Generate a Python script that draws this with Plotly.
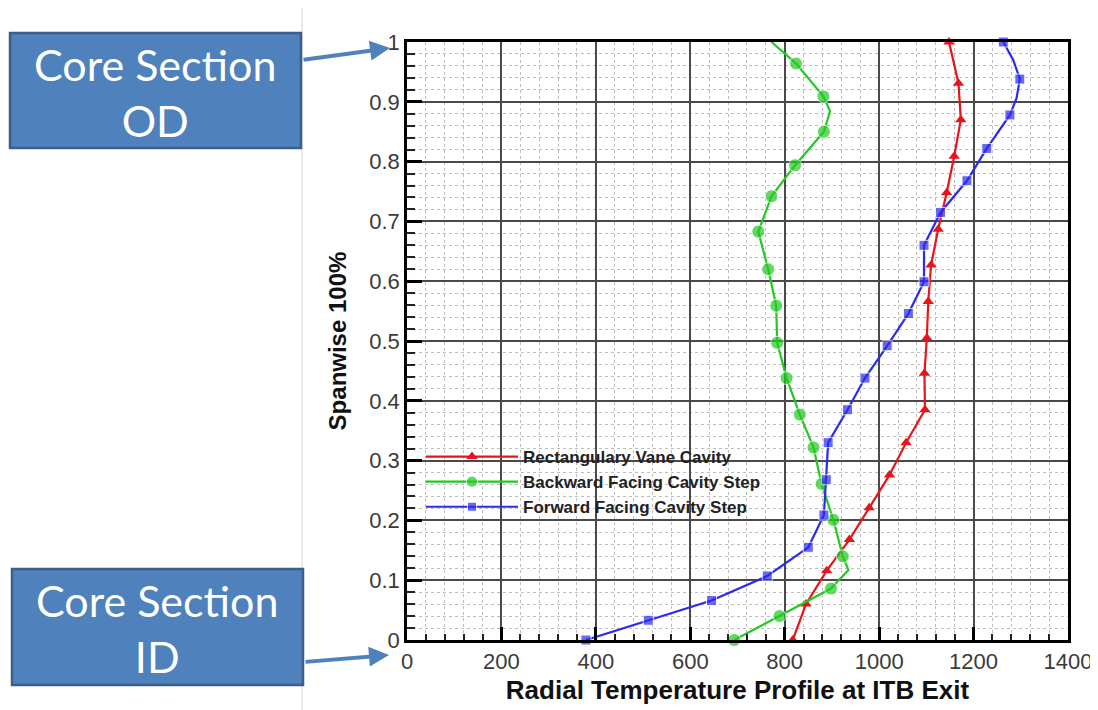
import plotly.graph_objects as go

# ---------------- data ----------------
rect_temp = [817, 845, 889, 937, 979, 1022, 1057, 1097, 1096, 1101, 1104, 1110, 1125, 1143, 1159, 1173, 1168, 1148]
rect_span = [0.0, 0.06, 0.116, 0.168, 0.221, 0.276, 0.33, 0.385, 0.446, 0.505, 0.566, 0.627, 0.687, 0.748, 0.809, 0.87, 0.931, 1.0]

back_temp = [693, 789, 898, 935, 923, 903, 878, 861, 832, 804, 784, 782, 765, 744, 772, 822, 883, 896, 882, 824, 772]
back_span = [0.0, 0.04, 0.086, 0.117, 0.14, 0.201, 0.261, 0.322, 0.377, 0.438, 0.497, 0.559, 0.62, 0.683, 0.742, 0.794, 0.85, 0.884, 0.909, 0.964, 1.0]

fwd_temp = [379, 511, 645, 763, 850, 883, 888, 892, 933, 970, 1017, 1062, 1095, 1095, 1130, 1186, 1228, 1277, 1291, 1298, 1284, 1263]
fwd_span = [0.0, 0.033, 0.066, 0.107, 0.155, 0.209, 0.268, 0.33, 0.385, 0.438, 0.492, 0.546, 0.599, 0.66, 0.715, 0.768, 0.822, 0.878, 0.906, 0.938, 0.97, 1.0]

series_names = ["Rectangulary Vane Cavity", "Backward Facing Cavity Step", "Forward Facing Cavity Step"]
x_title = "Radial Temperature Profile at ITB Exit"
y_title = "Spanwise 100%"
box_top_text = "Core Section<br>OD"
box_bot_text = "Core Section<br>ID"

# ---------------- styling ----------------
OFF = 8                      # page body margin (figure starts 8px in)
W, H = 1098 - OFF, 710 - OFF
# plot area in reference-page pixels
L, R, T, B = 407, 1068, 42, 640


def px(x):
    return (x - L) / (R - L)


def py(y):
    return (B - y) / (B - T)


def sizes(n, size, hidden=()):
    return [0 if i in hidden else size for i in range(n)]


fig = go.Figure()

fig.add_trace(go.Scatter(
    x=rect_temp, y=rect_span, name=series_names[0], mode="lines+markers",
    line=dict(color="#e8141b", width=2.2),
    marker=dict(symbol="triangle-up", size=10, color="#e8141b"),
    cliponaxis=False,
))
fig.add_trace(go.Scatter(
    x=back_temp, y=back_span, name=series_names[1], mode="lines+markers",
    line=dict(color="#22c922", width=2.2),
    marker=dict(symbol="circle", size=sizes(len(back_temp), 13, hidden=(3, 17, 20)), color="#22c922"),
    cliponaxis=False,
))
fig.add_trace(go.Scatter(
    x=fwd_temp, y=fwd_span, name=series_names[2], mode="lines+markers",
    line=dict(color="#2b2bf0", width=2.2),
    marker=dict(symbol="square", size=sizes(len(fwd_temp), 10, hidden=(18, 20)), color="#2b2bf0"),
    cliponaxis=False,
))

tick_font = dict(family="Liberation Sans, Arial, sans-serif", size=22, color="#3a3a3a")
title_font = dict(family="Liberation Sans, Arial, sans-serif", size=26, color="#111111", weight="bold")

fig.update_xaxes(
    range=[0, 1400], dtick=200, tick0=0,
    showline=True, linecolor="black", linewidth=2.5, mirror=True,
    ticks="inside", ticklen=13, tickwidth=2.5, tickcolor="black",
    showgrid=True, gridcolor="#4a4a4a", gridwidth=1.5,
    zeroline=False, tickfont=tick_font,
    minor=dict(dtick=40, ticks="inside", ticklen=6, tickwidth=1.5, tickcolor="#222",
               showgrid=True, gridcolor="#bdbdbd", gridwidth=1, griddash="dot"),
    title=dict(text=x_title, font=title_font, standoff=8),
)
fig.update_yaxes(
    range=[0, 1], dtick=0.1, tick0=0,
    showline=True, linecolor="black", linewidth=2.5, mirror=True,
    ticks="inside", ticklen=15, tickwidth=2.5, tickcolor="black",
    showgrid=True, gridcolor="#4a4a4a", gridwidth=1.5,
    zeroline=False, tickfont=tick_font,
    minor=dict(dtick=0.02, ticks="inside", ticklen=8, tickwidth=1.5, tickcolor="#222",
               showgrid=True, gridcolor="#bdbdbd", gridwidth=1, griddash="dot"),
    title=dict(text=y_title, font=dict(title_font, size=24), standoff=16),
)

shapes = [
    # slide divider
    dict(type="line", xref="paper", yref="paper", x0=px(302), x1=px(302), y0=py(OFF), y1=py(710),
         line=dict(color="#d6d6d6", width=1), layer="below"),
    # boxes
    dict(type="rect", xref="paper", yref="paper", x0=px(10), x1=px(301), y0=py(148), y1=py(33),
         fillcolor="#4f81bd", line=dict(color="#3a5f8c", width=2.5), layer="above"),
    dict(type="rect", xref="paper", yref="paper", x0=px(12), x1=px(303), y0=py(685), y1=py(569),
         fillcolor="#4f81bd", line=dict(color="#3a5f8c", width=2.5), layer="above"),
]

box_font = dict(family="Lato, Carlito, sans-serif", size=43, color="white")
annotations = [
    dict(xref="paper", yref="paper", x=px(155), y=py(92), text=box_top_text, showarrow=False,
         font=box_font, xanchor="center", yanchor="middle"),
    dict(xref="paper", yref="paper", x=px(157), y=py(628), text=box_bot_text, showarrow=False,
         font=box_font, xanchor="center", yanchor="middle"),
    dict(xref="paper", yref="paper", x=px(390), y=py(48), ax=-88, ay=12, text="", showarrow=True,
         arrowcolor="#4f81bd", arrowwidth=4, arrowhead=2, arrowsize=1),
    dict(xref="paper", yref="paper", x=px(389), y=py(655), ax=-85, ay=7, text="", showarrow=True,
         arrowcolor="#4f81bd", arrowwidth=4, arrowhead=2, arrowsize=1),
]

fig.update_layout(
    width=W, height=H,
    margin=dict(l=L - OFF, r=1098 - R, t=T - OFF, b=710 - B, pad=0, autoexpand=False),
    paper_bgcolor="white", plot_bgcolor="white",
    shapes=shapes, annotations=annotations,
    legend=dict(x=px(421), y=py(439), xanchor="left", yanchor="top",
                bgcolor="rgba(0,0,0,0)", itemwidth=92, tracegroupgap=0,
                font=dict(family="Liberation Sans, Arial, sans-serif", size=17, color="#222", weight="bold")),
    showlegend=True,
)

fig.write_html("out.html")
